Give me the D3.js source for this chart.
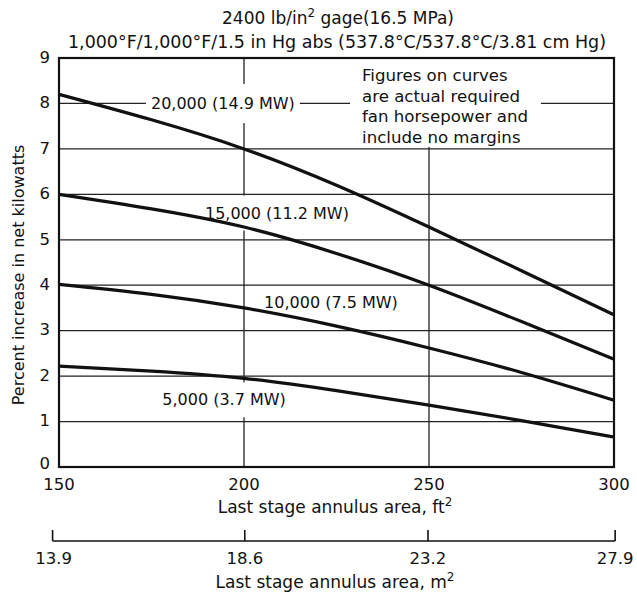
<!DOCTYPE html>
<html>
<head>
<meta charset="utf-8">
<script src="https://cdn.jsdelivr.net/npm/d3@7"></script>
<style>
  html, body { margin: 0; padding: 0; background: #fff; }
  svg { display: block; }
  text { font-family: "DejaVu Sans", "Liberation Sans", sans-serif; fill: #111; }
</style>
</head>
<body>
<svg id="chart" width="637" height="599"></svg>
<script>
// ---------- data ----------
const areaFt2 = [150, 175, 200, 225, 250, 275, 300];
const fan20000 = [8.2, 7.64, 7.0, 6.2, 5.28, 4.32, 3.35];
const fan15000 = [6.0, 5.68, 5.28, 4.7, 4.0, 3.2, 2.37];
const fan10000 = [4.02, 3.8, 3.5, 3.1, 2.62, 2.08, 1.47];
const fan5000  = [2.22, 2.11, 1.95, 1.68, 1.36, 1.02, 0.66];
const seriesNames = ["20,000 (14.9 MW)", "15,000 (11.2 MW)", "10,000 (7.5 MW)", "5,000 (3.7 MW)"];
const seriesValues = [fan20000, fan15000, fan10000, fan5000];
// label anchor positions in data units (ft², percent)
const labelX = [194.3, 208.9, 223.5, 194.6];
const labelY = [8.0, 5.59, 3.63, 1.48];

const xTicksFt2 = [150, 200, 250, 300];
const yTicks = [0, 1, 2, 3, 4, 5, 6, 7, 8, 9];
const xTicksM2 = [13.9, 18.6, 23.2, 27.9];
const M2_TO_FT2 = 10.7639;

const titleLine1 = ["2400 lb/in", "2", " gage(16.5 MPa)"];
const titleLine2 = "1,000°F/1,000°F/1.5  in Hg abs (537.8°C/537.8°C/3.81 cm Hg)";
const yTitle = "Percent increase in net kilowatts";
const xTitleFt = ["Last stage annulus area, ft", "2"];
const xTitleM = ["Last stage annulus area, m", "2"];
const noteLines = ["Figures on curves", "are actual required", "fan horsepower and", "include no margins"];
const noteX = 231.9;
const noteY = [8.63, 8.17, 7.71, 7.25];

// ---------- layout ----------
const svg = d3.select("#chart");
const L = 59, R = 614, T = 58, B = 467;
const x = d3.scaleLinear().domain([150, 300]).range([L, R]);
const y = d3.scaleLinear().domain([0, 9]).range([B, T]);
const xm = d3.scaleLinear().domain([150 / M2_TO_FT2, 300 / M2_TO_FT2]).range([L, R]);

const FS = 16;

// gridlines
const grid = svg.append("g").attr("stroke", "#222").attr("stroke-width", 1.3);
grid.selectAll("line.h").data(yTicks.filter(d => d > 0 && d < 9)).join("line")
  .attr("x1", L).attr("x2", R).attr("y1", d => y(d)).attr("y2", d => y(d));
grid.selectAll("line.v").data(xTicksFt2.filter(d => d > 150 && d < 300)).join("line")
  .attr("x1", d => x(d)).attr("x2", d => x(d)).attr("y1", T).attr("y2", B);

// note block (masks gridlines)
const noteG = svg.append("g");
const noteBg = noteG.append("rect").attr("fill", "#fff");
const noteT = noteG.append("g");
noteT.selectAll("text").data(noteLines).join("text")
  .attr("x", x(noteX)).attr("y", (d, i) => y(noteY[i])).attr("dy", "0.35em")
  .attr("font-size", 16.6).text(d => d);
{
  const bb = noteT.node().getBBox();
  noteBg.attr("x", bb.x - 12).attr("y", T + 1).attr("width", bb.width + 25)
    .attr("height", Math.min(y(7) - 2, bb.y + bb.height + 3) - (T + 1));
}

// curve label backgrounds
const labG = svg.append("g");
const labBgs = labG.selectAll("rect").data(seriesNames).join("rect").attr("fill", "#fff");

// frame
svg.append("rect").attr("x", L).attr("y", T).attr("width", R - L).attr("height", B - T)
  .attr("fill", "none").attr("stroke", "#111").attr("stroke-width", 2.2);

// curves
const line = d3.line().x((d, i) => x(areaFt2[i])).y(d => y(d)).curve(d3.curveNatural);
svg.append("g").selectAll("path").data(seriesValues).join("path")
  .attr("d", line).attr("fill", "none").attr("stroke", "#111").attr("stroke-width", 3.2);

// curve labels
const labs = labG.selectAll("text").data(seriesNames).join("text")
  .attr("x", (d, i) => x(labelX[i])).attr("y", (d, i) => y(labelY[i])).attr("dy", "0.35em")
  .attr("text-anchor", "middle").attr("font-size", FS).text(d => d);
const padY = [10, 8, 0, 8];
labs.each(function (d, i) {
  const bb = this.getBBox();
  d3.select(labBgs.nodes()[i])
    .attr("x", bb.x - 5).attr("y", bb.y - padY[i])
    .attr("width", bb.width + 10).attr("height", bb.height + 2 * padY[i]);
});

// y tick labels
svg.append("g").selectAll("text").data(yTicks).join("text")
  .attr("x", 50).attr("y", d => y(d) - (d === 0 ? 4 : 1)).attr("dy", "0.35em")
  .attr("text-anchor", "end").attr("font-size", 16.5).text(d => d);

// x tick labels ft²
svg.append("g").selectAll("text").data(xTicksFt2).join("text")
  .attr("x", d => x(d)).attr("y", 484).attr("dy", "0.35em")
  .attr("text-anchor", "middle").attr("font-size", 16.5).text(d => d);

// secondary m² axis
const ax2 = svg.append("g").attr("stroke", "#111").attr("stroke-width", 1.6);
ax2.append("line").attr("x1", xm(xTicksM2[0]) - 5).attr("x2", xm(xTicksM2[xTicksM2.length - 1]))
  .attr("y1", 541).attr("y2", 541);
ax2.selectAll("line.t").data(xTicksM2).join("line")
  .attr("x1", (d, i) => xm(d) - (i === 0 ? 5 : 0)).attr("x2", (d, i) => xm(d) - (i === 0 ? 5 : 0))
  .attr("y1", 530).attr("y2", 541);
svg.append("g").selectAll("text").data(xTicksM2).join("text")
  .attr("x", (d, i) => xm(d) - (i === 0 ? 4 : 0)).attr("y", 558).attr("dy", "0.35em")
  .attr("text-anchor", "middle").attr("font-size", 16.5).text(d => d.toFixed(1));

// helper for text with superscript
function supText(sel, parts, xPos, yPos, fs) {
  const t = sel.append("text").attr("x", xPos).attr("y", yPos).attr("dy", "0.35em")
    .attr("text-anchor", "middle").attr("font-size", fs);
  parts.forEach((p, i) => {
    const ts = t.append("tspan").text(p);
    if (i % 2 === 1) ts.attr("font-size", fs * 0.7).attr("baseline-shift", "super");
  });
  return t;
}

// titles
supText(svg, titleLine1, 338, 18, 17);
svg.append("text").attr("x", 337).attr("y", 42).attr("dy", "0.35em")
  .attr("text-anchor", "middle").attr("font-size", 17)
  .attr("textLength", 538).attr("lengthAdjust", "spacingAndGlyphs").text(titleLine2);
supText(svg, xTitleFt, 335, 507, 17);
supText(svg, xTitleM, 335, 582, 17);

// y title
svg.append("text").attr("transform", `translate(18,275) rotate(-90)`)
  .attr("dy", "0.35em").attr("text-anchor", "middle").attr("font-size", 16).text(yTitle);
</script>
</body>
</html>
